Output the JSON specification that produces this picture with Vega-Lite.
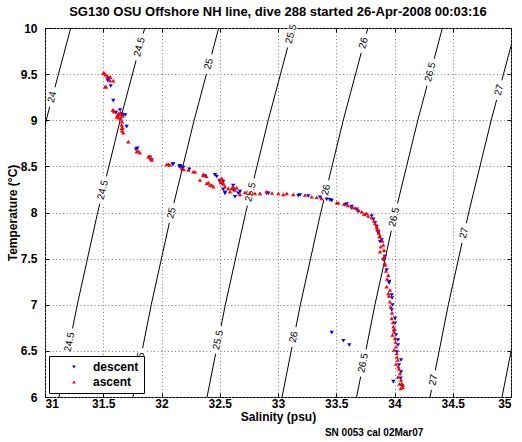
{
  "$schema": "https://vega.github.io/schema/vega-lite/v6.json",
  "width": 466,
  "height": 369,
  "autosize": "none",
  "padding": {"left": 45, "top": 28, "right": 11, "bottom": 45},
  "background": "white",
  "title": {"text": "SG130 OSU Offshore NH line, dive 288 started 26-Apr-2008 00:03:16", "font": "Liberation Sans", "fontSize": 13, "fontWeight": "bold", "color": "black", "offset": 0},
  "config": {
    "view": {"stroke": "black", "strokeWidth": 1},
    "axis": {
      "labelFont": "Liberation Sans", "labelFontSize": 12, "labelFontWeight": "bold", "labelColor": "black",
      "titleFont": "Liberation Sans", "titleFontSize": 12, "titleFontWeight": "bold", "titleColor": "black",
      "domain": false, "tickColor": "black", "tickSize": -4, "grid": true,
      "gridColor": "#808080", "gridDash": [1, 2.5], "gridOpacity": 1, "gridWidth": 1
    },
    "legend": {
      "orient": "bottom-left", "offset": 4, "fillColor": "white", "strokeColor": "black", "padding": 5,
      "labelFont": "Liberation Sans", "labelFontSize": 12, "labelFontWeight": "bold", "labelColor": "black",
      "symbolSize": 14, "symbolStrokeWidth": 0, "rowPadding": 3, "symbolOffset": 14, "labelOffset": 13
    }
  },
  "resolve": {"axis": {"x": "independent", "y": "independent"}},
  "datasets": {
    "isopycnals": [
      {"level": "24", "S": 30.485, "T": 6}, {"level": "24", "S": 30.642, "T": 7}, {"level": "24", "S": 30.817, "T": 8}, {"level": "24", "S": 31.010, "T": 9}, {"level": "24", "S": 31.221, "T": 10},
      {"level": "24.5", "S": 31.120, "T": 6}, {"level": "24.5", "S": 31.277, "T": 7}, {"level": "24.5", "S": 31.452, "T": 8}, {"level": "24.5", "S": 31.645, "T": 9}, {"level": "24.5", "S": 31.856, "T": 10},
      {"level": "25", "S": 31.755, "T": 6}, {"level": "25", "S": 31.912, "T": 7}, {"level": "25", "S": 32.087, "T": 8}, {"level": "25", "S": 32.280, "T": 9}, {"level": "25", "S": 32.491, "T": 10},
      {"level": "25.5", "S": 32.391, "T": 6}, {"level": "25.5", "S": 32.548, "T": 7}, {"level": "25.5", "S": 32.723, "T": 8}, {"level": "25.5", "S": 32.916, "T": 9}, {"level": "25.5", "S": 33.127, "T": 10},
      {"level": "26", "S": 33.035, "T": 6}, {"level": "26", "S": 33.192, "T": 7}, {"level": "26", "S": 33.367, "T": 8}, {"level": "26", "S": 33.560, "T": 9}, {"level": "26", "S": 33.771, "T": 10},
      {"level": "26.5", "S": 33.675, "T": 6}, {"level": "26.5", "S": 33.832, "T": 7}, {"level": "26.5", "S": 34.007, "T": 8}, {"level": "26.5", "S": 34.200, "T": 9}, {"level": "26.5", "S": 34.411, "T": 10},
      {"level": "27", "S": 34.305, "T": 6}, {"level": "27", "S": 34.462, "T": 7}, {"level": "27", "S": 34.637, "T": 8}, {"level": "27", "S": 34.830, "T": 9}, {"level": "27", "S": 35.041, "T": 10},
      {"level": "27.5", "S": 34.923, "T": 6}, {"level": "27.5", "S": 35.080, "T": 7}
    ],
    "labels": [
      {"label": "24", "S": 31.061, "T": 9.252},
      {"label": "24.5", "S": 31.811, "T": 9.794}, {"label": "24.5", "S": 31.497, "T": 8.244}, {"label": "24.5", "S": 31.211, "T": 6.596},
      {"label": "25", "S": 32.406, "T": 9.610}, {"label": "25", "S": 32.086, "T": 7.995}, {"label": "25", "S": 31.819, "T": 6.423},
      {"label": "25.5", "S": 33.113, "T": 9.935}, {"label": "25.5", "S": 32.764, "T": 8.222}, {"label": "25.5", "S": 32.486, "T": 6.618},
      {"label": "26", "S": 33.735, "T": 9.837}, {"label": "26", "S": 33.412, "T": 8.244}, {"label": "26", "S": 33.135, "T": 6.650},
      {"label": "26.5", "S": 34.308, "T": 9.523}, {"label": "26.5", "S": 33.998, "T": 7.951}, {"label": "26.5", "S": 33.731, "T": 6.369},
      {"label": "27", "S": 34.897, "T": 9.328}, {"label": "27", "S": 34.597, "T": 7.778}, {"label": "27", "S": 34.333, "T": 6.184}
    ],
    "profile": [
      {"dir": "descent", "S": 31.544, "T": 9.444}, {"dir": "descent", "S": 31.552, "T": 9.454}, {"dir": "descent", "S": 31.538, "T": 9.432},
      {"dir": "descent", "S": 31.564, "T": 9.371}, {"dir": "descent", "S": 31.586, "T": 9.212}, {"dir": "descent", "S": 31.609, "T": 9.082},
      {"dir": "descent", "S": 31.644, "T": 9.111}, {"dir": "descent", "S": 31.672, "T": 9.057}, {"dir": "descent", "S": 31.690, "T": 9.057},
      {"dir": "descent", "S": 31.655, "T": 9.070}, {"dir": "descent", "S": 31.701, "T": 8.930}, {"dir": "descent", "S": 31.781, "T": 8.685},
      {"dir": "descent", "S": 31.793, "T": 8.696}, {"dir": "descent", "S": 31.901, "T": 8.598}, {"dir": "descent", "S": 31.916, "T": 8.569},
      {"dir": "descent", "S": 32.096, "T": 8.522}, {"dir": "descent", "S": 32.101, "T": 8.526}, {"dir": "descent", "S": 32.153, "T": 8.497},
      {"dir": "descent", "S": 32.165, "T": 8.497}, {"dir": "descent", "S": 32.159, "T": 8.507}, {"dir": "descent", "S": 32.187, "T": 8.486},
      {"dir": "descent", "S": 32.239, "T": 8.468}, {"dir": "descent", "S": 32.373, "T": 8.396}, {"dir": "descent", "S": 32.459, "T": 8.407},
      {"dir": "descent", "S": 32.474, "T": 8.388}, {"dir": "descent", "S": 32.496, "T": 8.341}, {"dir": "descent", "S": 32.530, "T": 8.334},
      {"dir": "descent", "S": 32.530, "T": 8.251}, {"dir": "descent", "S": 32.545, "T": 8.219}, {"dir": "descent", "S": 32.545, "T": 8.208},
      {"dir": "descent", "S": 32.616, "T": 8.244}, {"dir": "descent", "S": 32.616, "T": 8.291}, {"dir": "descent", "S": 32.659, "T": 8.208},
      {"dir": "descent", "S": 32.631, "T": 8.171}, {"dir": "descent", "S": 32.674, "T": 8.226}, {"dir": "descent", "S": 32.903, "T": 8.208},
      {"dir": "descent", "S": 32.917, "T": 8.208}, {"dir": "descent", "S": 33.174, "T": 8.182}, {"dir": "descent", "S": 33.189, "T": 8.190},
      {"dir": "descent", "S": 33.260, "T": 8.179}, {"dir": "descent", "S": 33.361, "T": 8.165}, {"dir": "descent", "S": 33.418, "T": 8.143},
      {"dir": "descent", "S": 33.446, "T": 8.136}, {"dir": "descent", "S": 33.461, "T": 8.128}, {"dir": "descent", "S": 33.575, "T": 8.081},
      {"dir": "descent", "S": 33.590, "T": 8.092}, {"dir": "descent", "S": 33.633, "T": 8.063}, {"dir": "descent", "S": 33.633, "T": 8.046},
      {"dir": "descent", "S": 33.676, "T": 8.035}, {"dir": "descent", "S": 33.689, "T": 8.009}, {"dir": "descent", "S": 33.747, "T": 7.973},
      {"dir": "descent", "S": 33.804, "T": 7.962}, {"dir": "descent", "S": 33.818, "T": 7.926}, {"dir": "descent", "S": 33.833, "T": 7.889},
      {"dir": "descent", "S": 33.847, "T": 7.846}, {"dir": "descent", "S": 33.861, "T": 7.792}, {"dir": "descent", "S": 33.861, "T": 7.775},
      {"dir": "descent", "S": 33.876, "T": 7.683}, {"dir": "descent", "S": 33.890, "T": 7.702}, {"dir": "descent", "S": 33.904, "T": 7.485},
      {"dir": "descent", "S": 33.918, "T": 7.521}, {"dir": "descent", "S": 33.933, "T": 7.377}, {"dir": "descent", "S": 33.955, "T": 7.250},
      {"dir": "descent", "S": 33.953, "T": 7.236}, {"dir": "descent", "S": 33.976, "T": 7.106}, {"dir": "descent", "S": 33.979, "T": 7.073},
      {"dir": "descent", "S": 33.983, "T": 6.997}, {"dir": "descent", "S": 33.976, "T": 6.943}, {"dir": "descent", "S": 34.004, "T": 6.853},
      {"dir": "descent", "S": 34.004, "T": 6.799}, {"dir": "descent", "S": 33.996, "T": 6.708}, {"dir": "descent", "S": 34.013, "T": 6.672},
      {"dir": "descent", "S": 34.030, "T": 6.618}, {"dir": "descent", "S": 34.030, "T": 6.564}, {"dir": "descent", "S": 34.021, "T": 6.488},
      {"dir": "descent", "S": 34.056, "T": 6.401}, {"dir": "descent", "S": 34.039, "T": 6.347}, {"dir": "descent", "S": 34.056, "T": 6.271},
      {"dir": "descent", "S": 34.053, "T": 6.203}, {"dir": "descent", "S": 33.990, "T": 6.166}, {"dir": "descent", "S": 34.064, "T": 6.119},
      {"dir": "descent", "S": 33.461, "T": 6.697}, {"dir": "descent", "S": 33.561, "T": 6.610}, {"dir": "descent", "S": 33.612, "T": 6.564},
      {"dir": "ascent", "S": 31.506, "T": 9.516}, {"dir": "ascent", "S": 31.521, "T": 9.494}, {"dir": "ascent", "S": 31.535, "T": 9.480},
      {"dir": "ascent", "S": 31.500, "T": 9.509}, {"dir": "ascent", "S": 31.560, "T": 9.468}, {"dir": "ascent", "S": 31.558, "T": 9.429},
      {"dir": "ascent", "S": 31.586, "T": 9.429}, {"dir": "ascent", "S": 31.524, "T": 9.364}, {"dir": "ascent", "S": 31.515, "T": 9.364},
      {"dir": "ascent", "S": 31.581, "T": 9.111}, {"dir": "ascent", "S": 31.586, "T": 9.111}, {"dir": "ascent", "S": 31.592, "T": 9.093},
      {"dir": "ascent", "S": 31.629, "T": 9.075}, {"dir": "ascent", "S": 31.650, "T": 9.082}, {"dir": "ascent", "S": 31.640, "T": 9.060},
      {"dir": "ascent", "S": 31.625, "T": 9.050}, {"dir": "ascent", "S": 31.615, "T": 9.039}, {"dir": "ascent", "S": 31.632, "T": 9.028},
      {"dir": "ascent", "S": 31.650, "T": 9.017}, {"dir": "ascent", "S": 31.667, "T": 9.046}, {"dir": "ascent", "S": 31.661, "T": 8.985},
      {"dir": "ascent", "S": 31.658, "T": 8.949}, {"dir": "ascent", "S": 31.667, "T": 8.920}, {"dir": "ascent", "S": 31.658, "T": 8.913},
      {"dir": "ascent", "S": 31.661, "T": 8.887}, {"dir": "ascent", "S": 31.672, "T": 8.865}, {"dir": "ascent", "S": 31.715, "T": 8.768},
      {"dir": "ascent", "S": 31.787, "T": 8.659}, {"dir": "ascent", "S": 31.801, "T": 8.667}, {"dir": "ascent", "S": 31.815, "T": 8.648},
      {"dir": "ascent", "S": 31.887, "T": 8.605}, {"dir": "ascent", "S": 31.901, "T": 8.605}, {"dir": "ascent", "S": 31.907, "T": 8.583},
      {"dir": "ascent", "S": 31.916, "T": 8.569}, {"dir": "ascent", "S": 32.045, "T": 8.522}, {"dir": "ascent", "S": 32.060, "T": 8.525},
      {"dir": "ascent", "S": 32.073, "T": 8.515}, {"dir": "ascent", "S": 32.173, "T": 8.479}, {"dir": "ascent", "S": 32.190, "T": 8.470},
      {"dir": "ascent", "S": 32.230, "T": 8.461}, {"dir": "ascent", "S": 32.273, "T": 8.442}, {"dir": "ascent", "S": 32.288, "T": 8.442},
      {"dir": "ascent", "S": 32.359, "T": 8.414}, {"dir": "ascent", "S": 32.359, "T": 8.406}, {"dir": "ascent", "S": 32.385, "T": 8.395},
      {"dir": "ascent", "S": 32.330, "T": 8.352}, {"dir": "ascent", "S": 32.388, "T": 8.317}, {"dir": "ascent", "S": 32.402, "T": 8.323},
      {"dir": "ascent", "S": 32.416, "T": 8.298}, {"dir": "ascent", "S": 32.431, "T": 8.298}, {"dir": "ascent", "S": 32.445, "T": 8.280},
      {"dir": "ascent", "S": 32.502, "T": 8.360}, {"dir": "ascent", "S": 32.508, "T": 8.327}, {"dir": "ascent", "S": 32.517, "T": 8.371},
      {"dir": "ascent", "S": 32.525, "T": 8.334}, {"dir": "ascent", "S": 32.530, "T": 8.317}, {"dir": "ascent", "S": 32.530, "T": 8.309},
      {"dir": "ascent", "S": 32.545, "T": 8.280}, {"dir": "ascent", "S": 32.573, "T": 8.262}, {"dir": "ascent", "S": 32.602, "T": 8.262},
      {"dir": "ascent", "S": 32.616, "T": 8.280}, {"dir": "ascent", "S": 32.631, "T": 8.244}, {"dir": "ascent", "S": 32.645, "T": 8.269},
      {"dir": "ascent", "S": 32.588, "T": 8.226}, {"dir": "ascent", "S": 32.674, "T": 8.197}, {"dir": "ascent", "S": 32.717, "T": 8.219},
      {"dir": "ascent", "S": 32.760, "T": 8.211}, {"dir": "ascent", "S": 32.803, "T": 8.208}, {"dir": "ascent", "S": 32.845, "T": 8.208},
      {"dir": "ascent", "S": 32.903, "T": 8.226}, {"dir": "ascent", "S": 32.949, "T": 8.211}, {"dir": "ascent", "S": 33.003, "T": 8.208},
      {"dir": "ascent", "S": 33.046, "T": 8.197}, {"dir": "ascent", "S": 33.075, "T": 8.208}, {"dir": "ascent", "S": 33.131, "T": 8.197},
      {"dir": "ascent", "S": 33.232, "T": 8.190}, {"dir": "ascent", "S": 33.289, "T": 8.171}, {"dir": "ascent", "S": 33.332, "T": 8.165},
      {"dir": "ascent", "S": 33.375, "T": 8.154}, {"dir": "ascent", "S": 33.504, "T": 8.106}, {"dir": "ascent", "S": 33.518, "T": 8.106},
      {"dir": "ascent", "S": 33.567, "T": 8.092}, {"dir": "ascent", "S": 33.601, "T": 8.076}, {"dir": "ascent", "S": 33.636, "T": 8.060},
      {"dir": "ascent", "S": 33.661, "T": 8.049}, {"dir": "ascent", "S": 33.687, "T": 8.027}, {"dir": "ascent", "S": 33.718, "T": 8.009},
      {"dir": "ascent", "S": 33.738, "T": 7.984}, {"dir": "ascent", "S": 33.761, "T": 7.991}, {"dir": "ascent", "S": 33.775, "T": 7.962},
      {"dir": "ascent", "S": 33.804, "T": 7.948}, {"dir": "ascent", "S": 33.824, "T": 7.908}, {"dir": "ascent", "S": 33.833, "T": 7.883},
      {"dir": "ascent", "S": 33.850, "T": 7.832}, {"dir": "ascent", "S": 33.847, "T": 7.846}, {"dir": "ascent", "S": 33.853, "T": 7.810},
      {"dir": "ascent", "S": 33.867, "T": 7.778}, {"dir": "ascent", "S": 33.870, "T": 7.738}, {"dir": "ascent", "S": 33.876, "T": 7.745},
      {"dir": "ascent", "S": 33.896, "T": 7.691}, {"dir": "ascent", "S": 33.904, "T": 7.648}, {"dir": "ascent", "S": 33.882, "T": 7.629},
      {"dir": "ascent", "S": 33.910, "T": 7.593}, {"dir": "ascent", "S": 33.876, "T": 7.575}, {"dir": "ascent", "S": 33.914, "T": 7.528},
      {"dir": "ascent", "S": 33.904, "T": 7.504}, {"dir": "ascent", "S": 33.918, "T": 7.449}, {"dir": "ascent", "S": 33.918, "T": 7.431},
      {"dir": "ascent", "S": 33.927, "T": 7.366}, {"dir": "ascent", "S": 33.947, "T": 7.322}, {"dir": "ascent", "S": 33.936, "T": 7.279},
      {"dir": "ascent", "S": 33.933, "T": 7.196}, {"dir": "ascent", "S": 33.961, "T": 7.160}, {"dir": "ascent", "S": 33.947, "T": 7.124},
      {"dir": "ascent", "S": 33.953, "T": 7.095}, {"dir": "ascent", "S": 33.961, "T": 7.033}, {"dir": "ascent", "S": 33.967, "T": 6.979},
      {"dir": "ascent", "S": 33.979, "T": 6.911}, {"dir": "ascent", "S": 33.976, "T": 6.853}, {"dir": "ascent", "S": 33.987, "T": 6.810},
      {"dir": "ascent", "S": 33.990, "T": 6.762}, {"dir": "ascent", "S": 34.000, "T": 6.737}, {"dir": "ascent", "S": 33.996, "T": 6.708},
      {"dir": "ascent", "S": 33.983, "T": 6.672}, {"dir": "ascent", "S": 34.004, "T": 6.636}, {"dir": "ascent", "S": 34.009, "T": 6.596},
      {"dir": "ascent", "S": 34.013, "T": 6.545}, {"dir": "ascent", "S": 33.996, "T": 6.510}, {"dir": "ascent", "S": 34.019, "T": 6.474},
      {"dir": "ascent", "S": 34.021, "T": 6.434}, {"dir": "ascent", "S": 34.028, "T": 6.401}, {"dir": "ascent", "S": 34.013, "T": 6.358},
      {"dir": "ascent", "S": 34.033, "T": 6.328}, {"dir": "ascent", "S": 34.039, "T": 6.304}, {"dir": "ascent", "S": 34.047, "T": 6.257},
      {"dir": "ascent", "S": 34.030, "T": 6.217}, {"dir": "ascent", "S": 34.056, "T": 6.184}, {"dir": "ascent", "S": 34.062, "T": 6.148},
      {"dir": "ascent", "S": 34.043, "T": 6.141}, {"dir": "ascent", "S": 34.073, "T": 6.130}, {"dir": "ascent", "S": 34.071, "T": 6.105},
      {"dir": "ascent", "S": 34.052, "T": 6.092}
    ],
    "note": [{"text": "SN 0053 cal 02Mar07", "S": 33.403, "T": 5.61}]
  },
  "layer": [
    {
      "data": {"name": "isopycnals"},
      "mark": {"type": "line", "clip": true, "color": "black", "strokeWidth": 1},
      "encoding": {
        "x": {"field": "S", "type": "quantitative", "scale": {"domain": [31, 35], "nice": false, "zero": false},
              "axis": {"title": "Salinity (psu)", "values": [31, 31.5, 32, 32.5, 33, 33.5, 34, 34.5, 35], "format": "~g", "labelPadding": 5, "titlePadding": 2}},
        "y": {"field": "T", "type": "quantitative", "scale": {"domain": [6, 10], "nice": false, "zero": false},
              "axis": {"title": "Temperature (°C)", "values": [6, 6.5, 7, 7.5, 8, 8.5, 9, 9.5, 10], "format": "~g", "labelPadding": 12, "titlePadding": 1}},
        "detail": {"field": "level", "type": "nominal"},
        "order": {"field": "T", "type": "quantitative"}
      }
    },
    {
      "data": {"name": "labels"},
      "transform": [{"filter": "length(datum.label) > 2"}],
      "mark": {"type": "point", "shape": "M-1,-0.3L1,-0.3L1,0.3L-1,0.3Z", "filled": true, "color": "white", "opacity": 1, "size": 784, "strokeWidth": 0},
      "encoding": {
        "x": {"field": "S", "type": "quantitative",
              "axis": {"orient": "top", "labels": false, "grid": false, "title": null, "values": [31, 31.5, 32, 32.5, 33, 33.5, 34, 34.5, 35]}},
        "y": {"field": "T", "type": "quantitative",
              "axis": {"orient": "right", "labels": false, "grid": false, "title": null, "values": [6, 6.5, 7, 7.5, 8, 8.5, 9, 9.5, 10]}},
        "angle": {"field": "T", "type": "quantitative", "scale": {"domain": [6, 10], "range": [281, 285]}, "legend": null}
      }
    },
    {
      "data": {"name": "labels"},
      "transform": [{"filter": "length(datum.label) <= 2"}],
      "mark": {"type": "point", "shape": "M-1,-0.3L1,-0.3L1,0.3L-1,0.3Z", "filled": true, "color": "white", "opacity": 1, "size": 400, "strokeWidth": 0},
      "encoding": {
        "x": {"field": "S", "type": "quantitative", "axis": null},
        "y": {"field": "T", "type": "quantitative", "axis": null},
        "angle": {"field": "T", "type": "quantitative", "scale": {"domain": [6, 10], "range": [281, 285]}, "legend": null}
      }
    },
    {
      "data": {"name": "labels"},
      "mark": {"type": "text", "font": "Liberation Sans", "fontSize": 10, "color": "black", "align": "center", "baseline": "middle"},
      "encoding": {
        "x": {"field": "S", "type": "quantitative", "axis": null},
        "y": {"field": "T", "type": "quantitative", "axis": null},
        "text": {"field": "label", "type": "nominal"},
        "angle": {"field": "T", "type": "quantitative", "scale": {"domain": [6, 10], "range": [281, 285]}, "legend": null}
      }
    },
    {
      "data": {"name": "profile"},
      "mark": {"type": "point", "filled": true, "opacity": 1, "size": 18},
      "encoding": {
        "x": {"field": "S", "type": "quantitative", "axis": null},
        "y": {"field": "T", "type": "quantitative", "axis": null},
        "color": {"field": "dir", "type": "nominal", "scale": {"domain": ["descent", "ascent"], "range": ["#0000ff", "#ff0000"]}, "legend": {"title": null}},
        "shape": {"field": "dir", "type": "nominal", "scale": {"domain": ["descent", "ascent"], "range": ["triangle-down", "triangle-up"]}, "legend": {"title": null}}
      }
    },
    {
      "data": {"name": "note"},
      "mark": {"type": "text", "font": "Liberation Sans", "fontSize": 10, "fontWeight": "bold", "color": "black", "align": "left", "baseline": "middle", "clip": false},
      "encoding": {
        "x": {"field": "S", "type": "quantitative", "axis": null},
        "y": {"field": "T", "type": "quantitative", "axis": null},
        "text": {"field": "text", "type": "nominal"}
      }
    }
  ]
}
